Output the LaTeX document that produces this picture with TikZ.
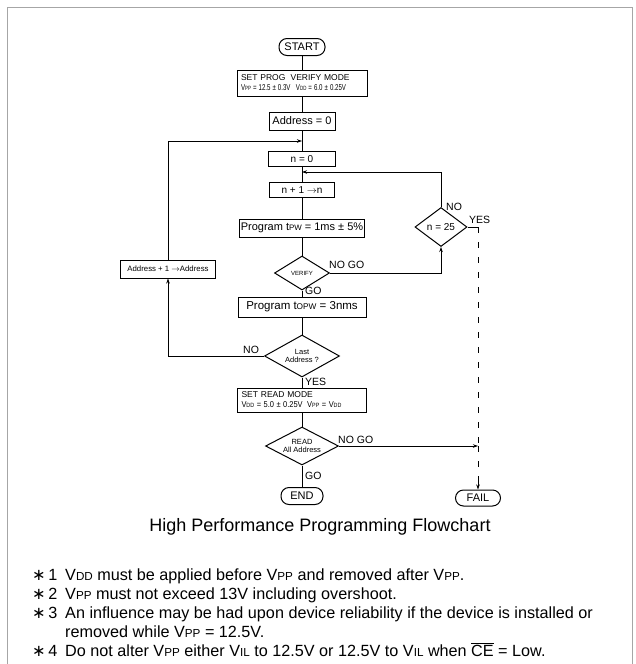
\documentclass[tikz,border=0pt]{standalone}
\usepackage{fontspec}
\setmainfont{Liberation Sans}
\newfontfamily\djv{DejaVu Sans}
\usetikzlibrary{shapes.geometric,arrows.meta}
\newcommand\lo[1]{\scalebox{0.72}{#1}}
\newcommand\fsz[1]{\fontsize{#1}{#1}\selectfont}
\newcommand\notestar{{\djv ∗}}
\begin{document}
\begin{tikzpicture}[x=1pt,y=-1pt,
  box/.style={draw,line width=1pt,inner sep=1pt,minimum height=15pt},
  term/.style={draw,line width=1pt,rounded corners=8pt,minimum height=17pt,inner sep=0pt,font=\fsz{11}},
  dia/.style={draw,diamond,line width=1pt,inner sep=0pt,align=center},
  ln/.style={line width=0.8pt},
  arr/.style={ln,-{Stealth[length=5pt,width=3.5pt]}},
  lab/.style={font=\fsz{10.5},inner sep=0pt},
  note/.style={anchor=base west,inner sep=0pt,font=\fsz{16.2}},
  frame/.style={draw=gray!70,line width=1pt}
]
\useasboundingbox (0,0) rectangle (636,664);
\draw[frame] (7,664) -- (7,7) -- (632,7) -- (632,664);

% main column
\node[term,minimum width=46pt] (start) at (302,47) {START};
\node[box,minimum width=130pt,minimum height=26pt,inner sep=0pt,align=left,text width=122pt,font=\fsz{8.5}] (setprog) at (302,83)
  {SET PROG\; VERIFY MODE\\[1.5pt]\scalebox{0.72}[1]{V\lo{PP} = 12.5 ± 0.3V\;\; V\lo{DD} = 6.0 ± 0.25V}};
\node[box,minimum width=66pt,minimum height=18pt,font=\fsz{11}] (addr0) at (302,121) {Address = 0};
\node[box,minimum width=67pt,font=\fsz{10}] (n0) at (302,159) {n = 0};
\node[box,minimum width=65pt,font=\fsz{10}] (np1) at (302,190) {n + 1 $\rightarrow$n};
\node[box,minimum width=125pt,minimum height=18pt,font=\fsz{11}] (prog) at (302,228) {Program t\lo{PW} = 1ms ± 5\%};
\node[dia,minimum width=55pt,minimum height=34pt,shape aspect=1.6,font=\fsz{6}] (verify) at (302,273) {VERIFY};
\node[box,minimum width=128pt,minimum height=20pt,font=\fsz{11.5}] (progo) at (302,307) {Program t\lo{OPW} = 3nms};
\node[dia,minimum width=75pt,minimum height=42pt,shape aspect=1.8,font=\fsz{7.5}] (last) at (302,356) {Last\\[1pt]Address ?};
\node[box,minimum width=129pt,minimum height=24pt,inner sep=0pt,align=left,text width=121pt,font=\fsz{8.5}] (setread) at (302,400)
  {SET READ MODE\\[1.5pt]\scalebox{0.88}[1]{V\lo{DD} = 5.0 ± 0.25V\; V\lo{PP} = V\lo{DD}}};
\node[dia,minimum width=73pt,minimum height=38pt,shape aspect=1.9,font=\fsz{7.5}] (readall) at (302,446) {READ\\[1pt]All Address};
\node[term,minimum width=42pt] (end) at (302,496) {END};

% side nodes
\node[dia,minimum width=52pt,minimum height=39pt,shape aspect=1.3,font=\fsz{10}] (n25) at (441,227) {n = 25};
\node[box,minimum width=95pt,minimum height=18pt,font=\fsz{7.8}] (addp1) at (168,269) {Address + 1 $\rightarrow$Address};
\node[term,minimum width=45pt,minimum height=16pt] (fail) at (478,498) {FAIL};

% main connectors
\draw[ln] (start) -- (setprog);
\draw[ln] (setprog) -- (addr0);
\draw[ln] (addr0) -- (n0);
\draw[ln] (n0) -- (np1);
\draw[ln] (np1) -- (prog);
\draw[ln] (prog) -- (verify);
\draw[ln] (verify) -- (progo);
\draw[ln] (progo) -- (last);
\draw[ln] (last) -- (setread);
\draw[ln] (setread) -- (readall);
\draw[ln] (readall) -- (end);

% loops
\coordinate (j1) at (302,141);
\coordinate (j2) at (302,172);
\coordinate (yc) at (478,227);
\coordinate (jf) at (478,446);
\draw[arr] (addp1.north) |- (j1);
\draw[arr] (last.west) -| (addp1.south);
\draw[arr] (verify.east) -| (n25.south);
\draw[arr] (n25.north) |- (j2);
\draw[ln] (n25.east) -- (yc);
\draw[ln,dashed,dash pattern=on 6pt off 9pt] (yc) -- (jf);
\draw[arr] (readall.east) -- (jf);
\draw[ln,dashed,dash pattern=on 6pt off 9pt] (jf) -- (fail.north);
\draw[arr] ([yshift=9pt]fail.north) -- (fail.north);

% labels
\node[lab,anchor=west] (l1) at (446,207) {NO};
\node[lab,anchor=west] (l2) at (469,220) {YES};
\node[lab,anchor=west] (l3) at (329,265) {NO GO};
\node[lab,anchor=west] (l4) at (305,291) {GO};
\node[lab,anchor=west] (l5) at (243,350) {NO};
\node[lab,anchor=west] (l6) at (305,382) {YES};
\node[lab,anchor=west] (l7) at (338,440) {NO GO};
\node[lab,anchor=west] (l8) at (305,476) {GO};

% caption
\node[inner sep=0pt,font=\fsz{18}] (cap) at (320,527) {High Performance Programming Flowchart};

% notes
\node[note] (s1) at (32,580) {\notestar\,1};
\node[note] (s2) at (32,599) {\notestar\,2};
\node[note] (s3) at (32,618) {\notestar\,3};
\node[note] (s4) at (32,656) {\notestar\,4};
\node[note] (t1) at (65,580) {V\lo{DD} must be applied before V\lo{PP} and removed after V\lo{PP}.};
\node[note] (t2) at (65,599) {V\lo{PP} must not exceed 13V including overshoot.};
\node[note] (t3) at (65,618) {An influence may be had upon device reliability if the device is installed or};
\node[note] (t3b) at (65,637) {removed while V\lo{PP} = 12.5V.};
\node[note] (t4) at (65,656) {Do not alter V\lo{PP} either V\lo{IL} to 12.5V or 12.5V to V\lo{IL} when $\overline{\mbox{CE}}$ = Low.};
\end{tikzpicture}
\end{document}
